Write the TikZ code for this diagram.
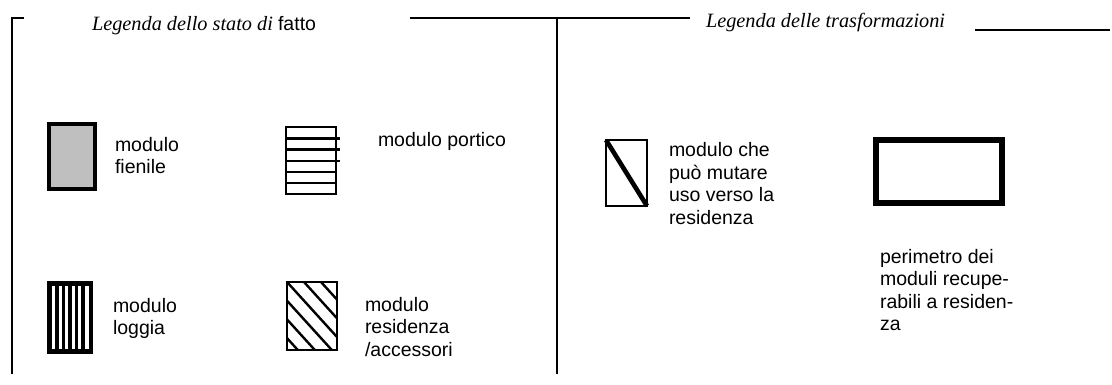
\documentclass[tikz,border=0pt]{standalone}
\usepackage{fontspec}
\newfontfamily\lsans{Liberation Sans}
\newfontfamily\lserif{Liberation Serif}
\begin{document}
\begin{tikzpicture}[x=1pt,y=-1pt,
  frame/.style={line width=2.6pt},
  lbl/.style={anchor=north west,inner sep=0pt,outer sep=0pt,align=left,
    font=\lsans\fontsize{19.5}{22.5}\selectfont},
  ttl/.style={anchor=base west,inner sep=0pt,outer sep=0pt,
    font=\lserif\itshape\fontsize{20.3}{24}\selectfont},
  thin/.style={line width=2.2pt}]
\useasboundingbox (0,0) rectangle (1112,385);
% frame lines
\draw[frame] (24,18) -- (12,18) -- (12,374);
\draw[frame] (410,18) -- (690,18);
\draw[frame] (557,18) -- (557,374);
\draw[frame] (975,30) -- (1110,30);
% titles
\node[ttl] (t1) at (92,31) {Legenda dello stato di {\upshape\lsans\fontsize{19.5}{24}\selectfont fatto}};
\node[ttl] (t2) at (706,28) {Legenda delle trasformazioni};
% modulo fienile
\draw[line width=4pt,fill=black!25] (49,124) rectangle (95,189);
\node[lbl] (lfien) at (115,135.75) {\strut modulo\\fienile};
% modulo portico
\draw[thin] (286,127) rectangle (336,194);
\draw[line width=3pt] (286,138.2) -- (340,138.2);
\draw[line width=3pt] (286,149.4) -- (340,149.4);
\draw[line width=2pt] (286,160.6) -- (340,160.6);
\draw[thin] (286,171.8) -- (336,171.8);
\draw[line width=2.6pt] (286,183) -- (336,183);
\node[lbl] (lport) at (378,131.25) {\strut modulo portico};
% modulo loggia
\draw[line width=4.5pt] (49.25,283.25) rectangle (90.75,350.75);
\draw[line width=2pt] (47,352.5) -- (93,352.5);
\foreach \bx in {56.8,63.4,70,76.6,83.2}{
  \draw[line width=3.6pt] (\bx,283) -- (\bx,351);
}
\node[lbl] (lloggia) at (113,296.25) {\strut modulo\\loggia};
% modulo residenza/accessori
\begin{scope}
\clip (287,282) rectangle (337,350);
\foreach \k in {-4,...,3}{
  \draw[line width=2.4pt] (287+17*\k,282) -- ++(100,110);
}
\end{scope}
\draw[thin] (287,282) rectangle (337,350);
\node[lbl] (lres) at (365,295.25) {\strut modulo\\residenza\\/accessori};
% modulo che puo mutare
\draw[thin] (606,140) rectangle (647,206);
\draw[line width=4.6pt] (606,140) -- (647,206);
\node[lbl] (lmut) at (669,141.25) {\strut modulo che\\può mutare\\uso verso la\\residenza};
% perimetro
\draw[line width=6.5pt] (876,140) rectangle (1002,203);
\node[lbl] (lper) at (880,247.25) {\strut perimetro dei\\moduli recupe-\\rabili a residen-\\za};
\end{tikzpicture}
\end{document}
